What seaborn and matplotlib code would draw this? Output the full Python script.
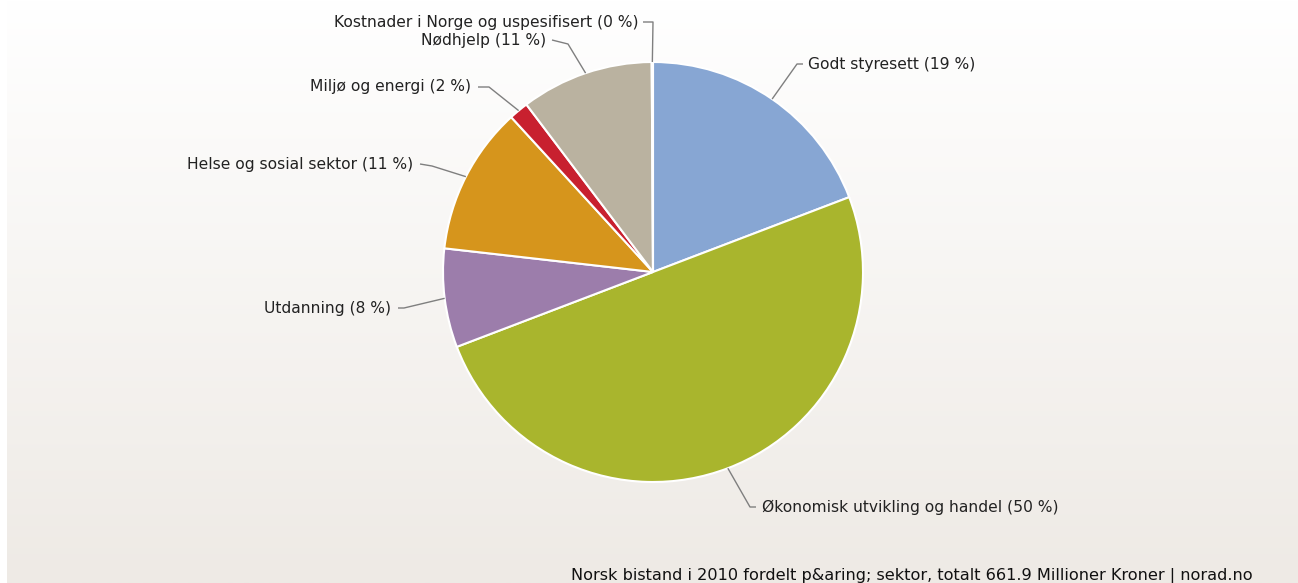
import numpy as np
import matplotlib
matplotlib.use("Agg")
import matplotlib.pyplot as plt
import seaborn as sns

# data (share of total, %)
sectors = ["Godt styresett", "Økonomisk utvikling og handel", "Utdanning",
           "Helse og sosial sektor", "Miljø og energi", "Nødhjelp",
           "Kostnader i Norge og uspesifisert"]
shares = [19.2, 50.0, 7.6, 11.4, 1.5, 10.2, 0.1]
shown_pct = [19, 50, 8, 11, 2, 11, 0]
colors = ["#87a6d3", "#a9b52d", "#9c7dab", "#d6951c", "#c8202f", "#bab2a0", "#4f6fa8"]
footer = "Norsk bistand i 2010 fordelt p&aring; sektor, totalt 661.9 Millioner Kroner | norad.no"

sns.set_theme(style="white")
plt.rcParams['font.family'] = ['DejaVu Sans']

W, H = 1298, 583
cx, cy, R = 653, 272, 210   # pie centre / radius in pixels (y from top)

fig = plt.figure(figsize=(W / 100, H / 100), dpi=100)
fig.patch.set_facecolor("white")

# background gradient panel
bg = fig.add_axes([0, 0, 1, 1])
t = np.linspace(0, 1, 256)[:, None, None]
top = np.array([1.0, 1.0, 1.0])
bottom = np.array([238, 234, 229]) / 255
bg.imshow(top + (bottom - top) * t, extent=[7, W, H, 0], aspect="auto")
bg.set_xlim(0, W)
bg.set_ylim(H, 0)
bg.axis("off")

ax = fig.add_axes([0, 0, 1, 1])
ax.patch.set_alpha(0)
wedges, _ = ax.pie(shares, colors=colors, startangle=90, counterclock=False,
                   center=(cx, H - cy), radius=R,
                   wedgeprops=dict(edgecolor="white", linewidth=1.5))
ax.set_xlim(0, W)
ax.set_ylim(0, H)
ax.set_aspect("equal")
ax.axis("off")

# label layout: (elbow point, line end, text x, text y, align) in pixels from top
layout = [
    ((797, 64), (803, 64), 808, 64, "left"),
    ((750, 507), (756, 507), 762, 507, "left"),
    ((404, 308), (398, 308), 391, 308, "right"),
    ((432, 166), (420, 164), 413, 165, "right"),
    ((489, 87), (478, 87), 471, 87, "right"),
    ((568, 44), (552, 40), 546, 41, "right"),
    ((653, 22), (643, 22), 638, 22, "right"),
]

for w, name, pct, (elb, end, tx, ty, ha) in zip(wedges, sectors, shown_pct, layout):
    mid = np.deg2rad((w.theta1 + w.theta2) / 2)
    ex = cx + R * np.cos(mid)
    ey = (H - cy) + R * np.sin(mid)
    ax.plot([ex, elb[0], end[0]], [ey, H - elb[1], H - end[1]],
            color="#7f7f7f", lw=1, solid_capstyle="butt")
    ax.text(tx, H - ty, f"{name} ({pct} %)", ha=ha, va="center",
            fontsize=11.2, color="#222222")

ax.text(1253, H - 580, footer, ha="right", va="baseline", fontsize=11.6, color="#111111")

fig.savefig("out.png", dpi=100)
